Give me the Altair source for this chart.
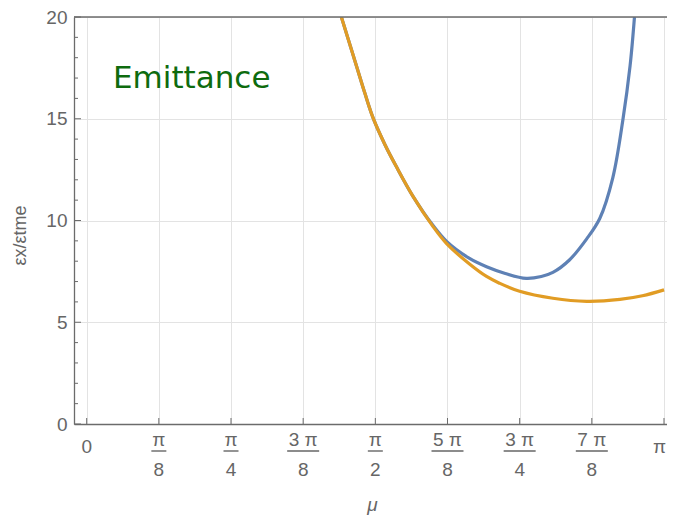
import math
import altair as alt
import pandas as pd

# emittance ratio curves (mu in rad)
mu_orange = [1.386, 1.469, 1.514, 1.559, 1.622, 1.685, 1.775, 1.885, 1.960, 2.085,
             2.176, 2.246, 2.356, 2.537, 2.721, 2.902, 3.024, 3.142]
ratio_orange = [20.0, 17.57, 16.25, 15.03, 13.75, 12.65, 11.2, 9.7, 8.85, 7.85,
                7.25, 6.92, 6.52, 6.18, 6.03, 6.12, 6.30, 6.59]

mu_blue = [1.386, 1.469, 1.514, 1.559, 1.622, 1.685, 1.775, 1.885, 1.960, 2.081,
           2.176, 2.278, 2.392, 2.474, 2.537, 2.627, 2.721, 2.792, 2.863, 2.918,
           2.957, 2.981]
ratio_blue = [20.0, 17.57, 16.25, 15.03, 13.75, 12.65, 11.2, 9.75, 8.96, 8.15,
              7.73, 7.40, 7.16, 7.25, 7.45, 8.06, 9.1, 10.1, 12.1, 14.95,
              17.6, 20.0]

# axis ticks
x_ticks = [k * math.pi / 8 for k in range(9)]
frac_num = ["π", "π", "3 π", "π", "5 π", "3 π", "7 π"]
frac_den = ["8", "4", "8", "2", "8", "4", "8"]
start_label = "0"
end_label = "π"
y_major = [0, 5, 10, 15, 20]
y_minor = [v for v in range(1, 20) if v % 5]

W, H = 593, 407
GRAY = "#666666"
FRAME = "#6b6b6b"
FONT = "Liberation Sans"

xs = alt.Scale(domain=[-0.069, 3.158], nice=False, zero=False)
ys = alt.Scale(domain=[0, 20], nice=False, zero=False)

blue_df = pd.DataFrame({"mu": mu_blue, "ratio": ratio_blue})
orange_df = pd.DataFrame({"mu": mu_orange, "ratio": ratio_orange})
frac_df = pd.DataFrame({"mu": x_ticks[1:8], "num": frac_num, "den": frac_den})
start_df = pd.DataFrame({"mu": [x_ticks[0]], "label": [start_label]})
end_df = pd.DataFrame({"mu": [x_ticks[8]], "label": [end_label]})
xt_df = pd.DataFrame({"mu": x_ticks})
ymaj_df = pd.DataFrame({"ratio": y_major})
ymin_df = pd.DataFrame({"ratio": y_minor})

x_axis = alt.Axis(
    values=x_ticks, labels=False, ticks=False, grid=True, gridColor="#e3e3e3",
    domainColor=FRAME, domainWidth=1.3,
    title="μ", titleFont=FONT, titleFontSize=19, titleFontStyle="italic",
    titleFontWeight="normal", titleColor=GRAY, titleX=298, titleY=80,
    titleAlign="center", titleBaseline="middle",
)
y_axis = alt.Axis(
    values=y_major, ticks=False, grid=True, gridColor="#e3e3e3",
    domainColor=FRAME, domainWidth=1.3, labelPadding=7,
    labelFont=FONT, labelFontSize=19, labelColor=GRAY,
    labelFlush=False, labelOverlap=False,
    title="εx/εtme", titleFont=FONT, titleFontSize=18, titleFontWeight="normal",
    titleColor=GRAY, titleX=-54, titleY=218, titleAngle=270,
    titleAlign="center", titleBaseline="middle",
)

blue = alt.Chart(blue_df).mark_line(
    color="#5e81b5", strokeWidth=3.2, interpolate="catmull-rom", clip=True
).encode(
    x=alt.X("mu:Q", scale=xs, axis=x_axis),
    y=alt.Y("ratio:Q", scale=ys, axis=y_axis),
)
orange = alt.Chart(orange_df).mark_line(
    color="#e19c24", strokeWidth=3.2, interpolate="catmull-rom", clip=True
).encode(x="mu:Q", y="ratio:Q")

# top edge of the frame
top_edge = alt.Chart(pd.DataFrame({"e": [0]})).mark_rule(
    color=FRAME, strokeWidth=1.3
).encode(x=alt.value(0), x2=alt.value(W), y=alt.value(0))

# inward ticks, Mathematica frame style
x_tick_marks = alt.Chart(xt_df).mark_rule(color=FRAME, strokeWidth=1).encode(
    x="mu:Q", y=alt.value(H), y2=alt.value(H - 6)
)
y_major_marks = alt.Chart(ymaj_df).mark_rule(color=FRAME, strokeWidth=1).encode(
    y="ratio:Q", x=alt.value(0), x2=alt.value(7)
)
y_minor_marks = alt.Chart(ymin_df).mark_rule(color=FRAME, strokeWidth=1).encode(
    y="ratio:Q", x=alt.value(0), x2=alt.value(4)
)

# fraction tick labels
num_text = alt.Chart(frac_df).mark_text(
    font=FONT, fontSize=19, color=GRAY, baseline="middle"
).encode(x="mu:Q", y=alt.value(H + 16), text="num:N")
bars = alt.Chart(frac_df).mark_point(
    shape="M-1,0L1,0", filled=False, strokeWidth=1.4, color=GRAY, opacity=1
).encode(
    x="mu:Q", y=alt.value(H + 27),
    size=alt.condition("length(datum.num) > 1", alt.value(1024), alt.value(225)),
)
den_text = alt.Chart(frac_df).mark_text(
    font=FONT, fontSize=19, color=GRAY, baseline="middle"
).encode(x="mu:Q", y=alt.value(H + 46), text="den:N")
start_text = alt.Chart(start_df).mark_text(
    font=FONT, fontSize=19, color=GRAY, baseline="middle"
).encode(x="mu:Q", y=alt.value(H + 23), text="label:N")
# pulled in a little so it stays inside the page
end_text = alt.Chart(end_df).mark_text(
    font=FONT, fontSize=19, color=GRAY, baseline="middle", align="right", dx=2
).encode(x="mu:Q", y=alt.value(H + 23), text="label:N")

label = alt.Chart(pd.DataFrame({"t": ["Emittance"]})).mark_text(
    font="DejaVu Sans", fontSize=31, color="#0e6b0e", align="left",
    baseline="alphabetic"
).encode(x=alt.value(39), y=alt.value(71), text="t:N")

chart = alt.layer(
    blue, orange, top_edge, x_tick_marks, y_major_marks, y_minor_marks,
    num_text, bars, den_text, start_text, end_text, label,
).properties(
    width=W, height=H,
    autosize=alt.AutoSizeParams(type="none"),
    padding={"left": 66, "top": 9, "right": 0, "bottom": 91},
).configure_view(stroke=None)

chart.save("out.html", embed_options={"renderer": "svg", "actions": False})
